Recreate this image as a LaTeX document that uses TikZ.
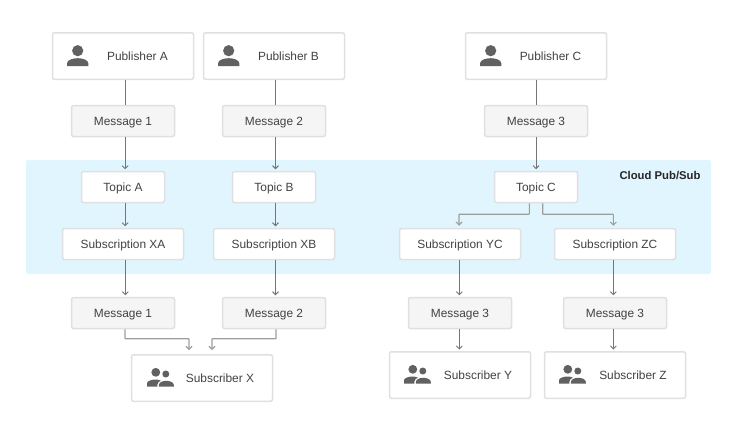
\documentclass[tikz,border=0pt]{standalone}
\usepackage{fontspec}
\setmainfont{Liberation Sans}
\usepackage{tikz}
\usetikzlibrary{arrows.meta}
\definecolor{boxline}{HTML}{E0E0E0}
\definecolor{boxfill}{HTML}{F5F5F5}
\definecolor{bandfill}{HTML}{E1F5FE}
\definecolor{linkdark}{HTML}{757575}
\definecolor{linklight}{HTML}{9E9E9E}
\definecolor{icongray}{HTML}{616161}
\definecolor{labelgray}{HTML}{424242}
\tikzstyle{card} = [rectangle, rounded corners=2pt, text centered, draw=boxline, line width=1.5pt, fill=white, text=labelgray, font=\fontsize{11.9}{14}\selectfont]
\tikzstyle{actor} = [card, minimum width=141pt, minimum height=46.5pt]
\tikzstyle{slim} = [card, minimum height=31pt, text height=11pt]
\tikzstyle{message} = [slim, minimum width=103pt, fill=boxfill]
\tikzstyle{topic} = [slim, minimum width=83pt]
\tikzstyle{subscription} = [slim, minimum width=121pt]
\tikzstyle{plain} = [draw=linkdark, line width=0.9pt]
\tikzstyle{arrow} = [plain, -{Straight Barb[length=3pt,width=6pt]}, shorten >=1.5pt]
\tikzstyle{elbow} = [draw=linklight, line width=1.1pt, -{Straight Barb[length=3pt,width=6pt]}, rounded corners=0.5pt]
% icons are drawn round the coordinate given
\newcommand{\personicon}[1]{
  \begin{scope}[shift={#1}]
    \fill [icongray] (0,-5.3) circle (5.6);
    \fill [icongray] (-10.7,10) -- (-10.7,7.5) .. controls (-10.7,3.6) and (-4,2.2) .. (0,2.2) .. controls (4,2.2) and (10.7,3.6) .. (10.7,7.5) -- (10.7,10) -- cycle;
  \end{scope}
}
\newcommand{\groupicon}[1]{
  \begin{scope}[shift={#1}]
    \fill [icongray] (-4.5,-5.7) circle (4.4);
    \fill [icongray] (5.5,-4) circle (3.5);
    \fill [icongray] (-13.3,8.7) -- (-13.3,5) .. controls (-13,2.8) and (-8,1.5) .. (-4.5,1.5) .. controls (-3,1.5) and (-1,1.9) .. (0.5,2.6) .. controls (-1.6,3.6) and (-3,5) .. (-3,7) -- (-3,8.7) -- cycle;
    \fill [icongray] (-1.4,8.7) -- (-1.4,7) .. controls (-1.4,4) and (3,2.8) .. (6,2.8) .. controls (9,2.8) and (13.5,4) .. (13.5,7) -- (13.5,8.7) -- cycle;
  \end{scope}
}
\begin{document}
\begin{tikzpicture}[x=1pt, y=-1pt, node distance=65pt]
\useasboundingbox (0,0) rectangle (736,429);

% Band
\node (band) [rectangle, rounded corners=2pt, fill=bandfill, minimum width=685pt, minimum height=114pt, inner sep=0pt] at (368.5,217) {};
\node (bandlabel) [font=\fontsize{11.3}{14}\selectfont\bfseries, text=black!85, inner sep=0pt] at (660,176) {Cloud Pub/Sub};

% Nodes
\node (pubA) [actor] at (123,56) {\hspace*{29pt}Publisher A};
\node (pubB) [actor] at (274,56) {\hspace*{29pt}Publisher B};
\node (pubC) [actor] at (536,56) {\hspace*{29pt}Publisher C};
\node (msgA) [message, below of=pubA] {Message 1};
\node (msgB) [message, below of=pubB] {Message 2};
\node (msgC) [message, below of=pubC] {Message 3};
\node (topicA) [topic, below of=msgA, yshift=-1pt] {Topic A};
\node (topicB) [topic, below of=msgB, yshift=-1pt] {Topic B};
\node (topicC) [topic, below of=msgC, yshift=-1pt] {Topic C};
\node (subXA) [subscription, below of=topicA, yshift=8pt] {Subscription XA};
\node (subXB) [subscription, below of=topicB, yshift=8pt] {Subscription XB};
\node (subYC) [subscription, below of=topicC, yshift=8pt, xshift=-76pt] {Subscription YC};
\node (subZC) [subscription, below of=topicC, yshift=8pt, xshift=79pt] {Subscription ZC};
\node (outA) [message, below of=subXA, yshift=-4pt] {Message 1};
\node (outB) [message, below of=subXB, yshift=-4pt] {Message 2};
\node (outY) [message, below of=subYC, yshift=-4pt] {Message 3};
\node (outZ) [message, below of=subZC, yshift=-4pt] {Message 3};
\node (subX) [actor, below of=outA, xshift=79pt] {\hspace*{36pt}Subscriber X};
\node (subY) [actor, below of=outY, yshift=3pt] {\hspace*{36pt}Subscriber Y};
\node (subZ) [actor, below of=outZ, yshift=3pt] {\hspace*{36pt}Subscriber Z};

% Icons
\personicon{(77.7,56)}
\personicon{(228.7,56)}
\personicon{(490.7,56)}
\groupicon{(160.3,378)}
\groupicon{(417.3,375)}
\groupicon{(572.3,375)}

% Arrows
\draw [plain] ([xshift=2.5pt]pubA.south) -- ([xshift=2.5pt]msgA.north);
\draw [plain] ([xshift=1.7pt]pubB.south) -- ([xshift=1.7pt]msgB.north);
\draw [plain] (pubC.south) -- (msgC.north);
\draw [arrow] ([xshift=2.2pt]msgA.south) -- ([xshift=2.2pt]topicA.north);
\draw [arrow] ([xshift=1.5pt]msgB.south) -- ([xshift=1.5pt]topicB.north);
\draw [arrow] (msgC.south) -- (topicC.north);
\draw [arrow] ([xshift=2.2pt]topicA.south) -- ([xshift=2.2pt]subXA.north);
\draw [arrow] ([xshift=1.5pt]topicB.south) -- ([xshift=1.5pt]subXB.north);
\draw [arrow] ([xshift=2.3pt]subXA.south) -- ([xshift=2.3pt]outA.north);
\draw [arrow] ([xshift=1.5pt]subXB.south) -- ([xshift=1.5pt]outB.north);
\draw [arrow] ([xshift=-0.7pt]subYC.south) -- ([xshift=-0.7pt]outY.north);
\draw [arrow] ([xshift=-1.7pt]subZC.south) -- ([xshift=-1.7pt]outZ.north);
\draw [arrow] ([xshift=-0.7pt]outY.south) -- ([xshift=-0.7pt]subY.north);
\draw [arrow] ([xshift=-1.7pt]outZ.south) -- ([xshift=-1.7pt]subZ.north);
\draw [elbow] ([xshift=-6.7pt]topicC.south) -- ++(0,11) -- ++(-70.3,0) -- ([xshift=-1pt,yshift=2pt]subYC.north);
\draw [elbow] ([xshift=6.7pt]topicC.south) -- ++(0,11) -- ++(70.6,0) -- ([xshift=-1.7pt,yshift=2pt]subZC.north);
\draw [elbow] ([xshift=2pt]outA.south) -- ++(0,9.5) -- ++(64,0) -- ([xshift=-13pt,yshift=4pt]subX.north);
\draw [elbow] ([xshift=2pt]outB.south) -- ++(0,9.5) -- ++(-64,0) -- ([xshift=10pt,yshift=4pt]subX.north);

\end{tikzpicture}
\end{document}
